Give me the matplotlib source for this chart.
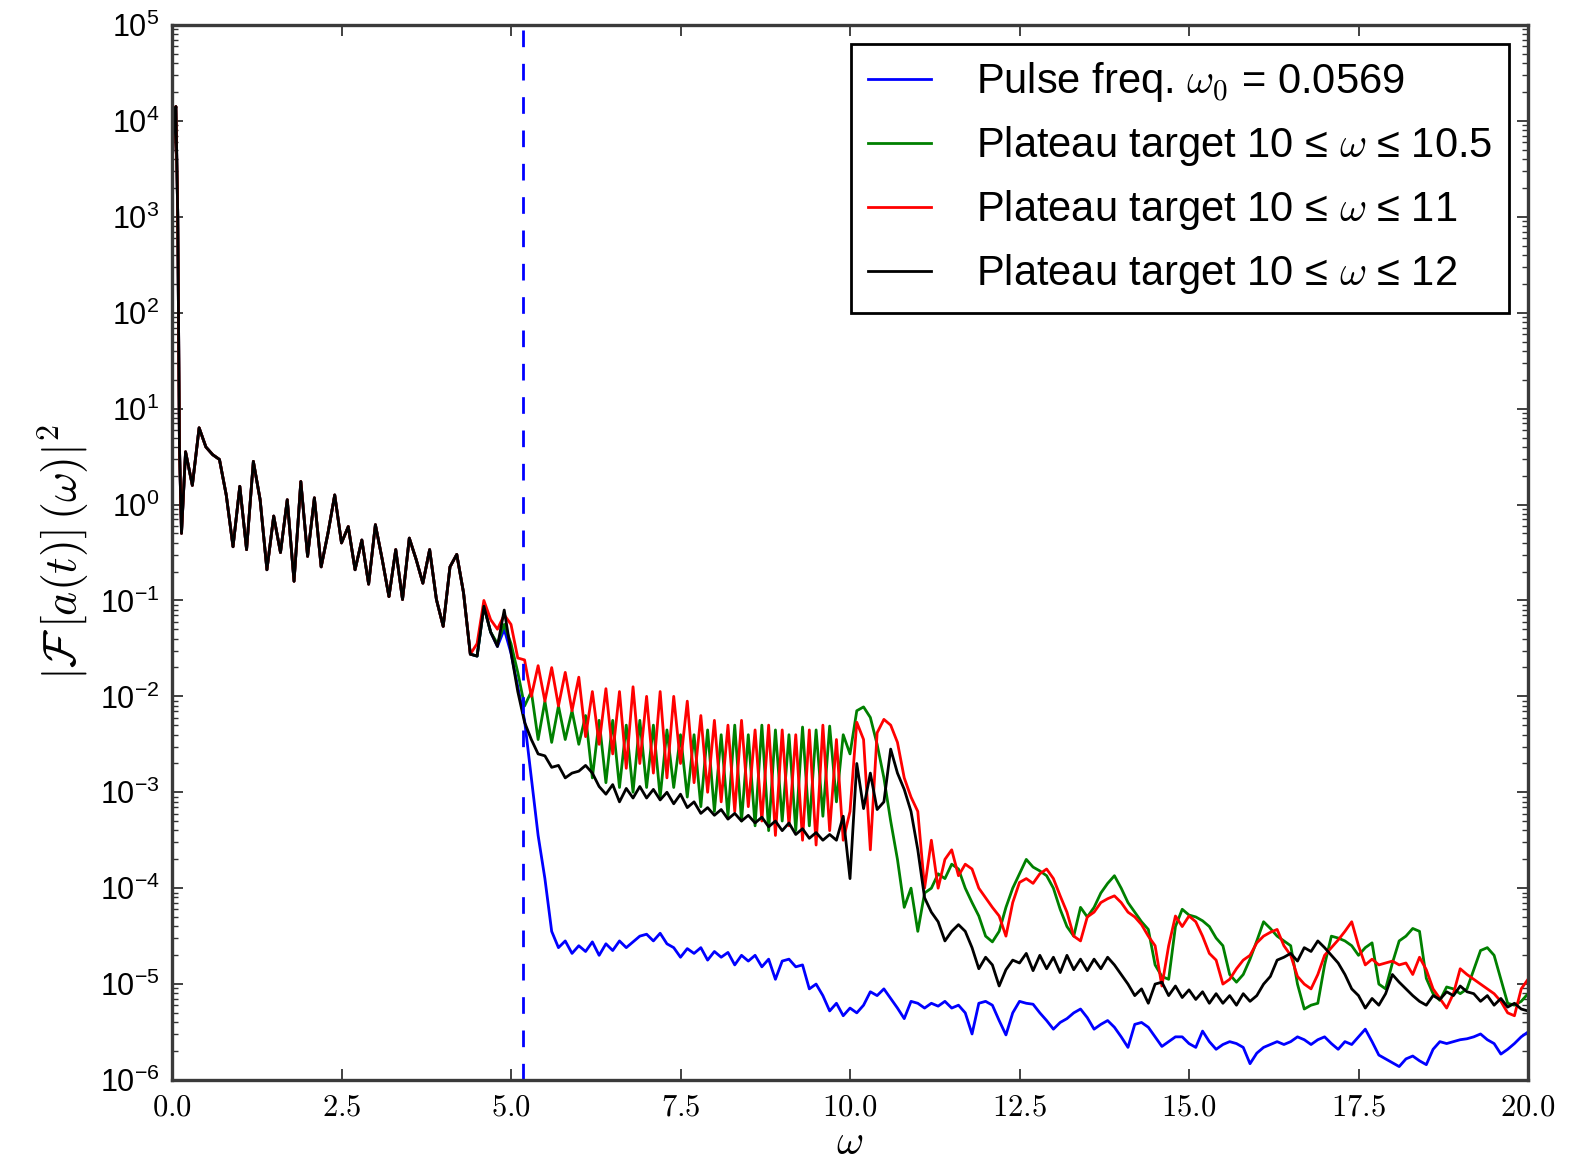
import numpy as np
import matplotlib
matplotlib.use("Agg")
import matplotlib.pyplot as plt
from matplotlib.ticker import MultipleLocator, FuncFormatter, FixedLocator, NullFormatter, LogFormatterSciNotation

plt.rcParams['font.family'] = ['Liberation Sans', 'DejaVu Sans']
plt.rcParams['mathtext.fontset'] = 'cm'

# ---------------------------------------------------------------------------
# Spectra, stored as log10 |F[a(t)](w)|^2
# ---------------------------------------------------------------------------
omega0 = 0.0569          # pulse frequency
cutoff_omega = 5.18      # dashed marker

# fundamental peak (shared by all runs)
omega_spike = [0.0, 0.03, 0.057, 0.085, 0.11, 0.14]
log_spike = [3.5, 4.0, 4.15, 3.0, 0.6, -0.3]

# low-order band, 0.2 .. 4.4 (identical for all runs)
omega_low = np.round(np.arange(0.2, 4.45, 0.1), 1)
log_low = [0.55, 0.2, 0.8, 0.6, 0.52, 0.47, 0.1, -0.44, 0.19, -0.47,
           0.45, 0.05, -0.68, -0.12, -0.5, 0.05, -0.8, 0.24, -0.54, 0.07,
           -0.65, -0.3, 0.1, -0.4, -0.23, -0.68, -0.37, -0.83, -0.21, -0.57,
           -0.96, -0.47, -0.99, -0.35, -0.57, -0.82, -0.47, -0.99, -1.27, -0.65,
           -0.52, -0.92, -1.56]

# per-run tails, 4.5 .. 20.0
omega_tail = np.round(np.arange(4.5, 20.05, 0.1), 1)

log_pulse = [
    -1.58, -1.06, -1.33, -1.48, -1.3,
    -1.55, -1.9, -2.25, -2.85, -3.45, -3.9, -4.45, -4.62, -4.55, -4.68,
    -4.6, -4.66, -4.56, -4.7, -4.58, -4.65, -4.55, -4.62, -4.56, -4.5,
    -4.48, -4.55, -4.47, -4.58, -4.62, -4.72, -4.63, -4.68, -4.62, -4.75,
    -4.66, -4.72, -4.67, -4.8, -4.7, -4.76, -4.7, -4.82, -4.74, -4.95,
    -4.76, -4.74, -4.82, -4.8, -5.05, -5.0, -5.12, -5.28, -5.2, -5.33,
    -5.25, -5.3, -5.22, -5.08, -5.12, -5.05, -5.15, -5.25, -5.36, -5.18,
    -5.2, -5.25, -5.2, -5.23, -5.18, -5.25, -5.22, -5.3, -5.52, -5.2,
    -5.18, -5.22, -5.38, -5.53, -5.3, -5.18, -5.2, -5.21, -5.3, -5.38,
    -5.47, -5.4, -5.36, -5.3, -5.26, -5.35, -5.47, -5.42, -5.38, -5.45,
    -5.55, -5.66, -5.42, -5.4, -5.45, -5.55, -5.65, -5.6, -5.55, -5.55,
    -5.62, -5.66, -5.49, -5.6, -5.68, -5.63, -5.6, -5.62, -5.66, -5.83,
    -5.72, -5.66, -5.63, -5.6, -5.63, -5.6, -5.55, -5.58, -5.63, -5.58,
    -5.55, -5.62, -5.68, -5.6, -5.63, -5.55, -5.47, -5.6, -5.74, -5.78,
    -5.82, -5.86, -5.78, -5.75, -5.8, -5.84, -5.68, -5.6, -5.62, -5.6,
    -5.58, -5.57, -5.55, -5.52, -5.58, -5.62, -5.73, -5.68, -5.62, -5.55,
    -5.5]

log_target_105 = [
    -1.58, -1.06, -1.33, -1.45, -1.25,
    -1.45, -1.75, -2.1, -1.95, -2.45, -2.05, -2.48, -2.1, -2.45, -2.15,
    -2.5, -2.2, -2.85, -2.25, -2.9, -2.25, -2.95, -2.3, -3.0, -2.25,
    -2.95, -2.3, -3.05, -2.35, -2.95, -2.4, -3.05, -2.4, -3.15, -2.35,
    -3.2, -2.4, -3.25, -2.3, -3.3, -2.4, -3.35, -2.3, -3.4, -2.35,
    -3.3, -2.4, -3.4, -2.32, -3.35, -2.35, -3.25, -2.31, -3.1, -2.4,
    -2.6, -2.15, -2.11, -2.22, -2.5, -2.85, -3.3, -3.7, -4.2, -4.0,
    -4.45, -4.05, -4.0, -3.85, -3.9, -3.75, -3.8, -4.0, -4.15, -4.29,
    -4.5, -4.56, -4.45, -4.2, -4.0, -3.85, -3.7, -3.78, -3.82, -3.87,
    -4.0, -4.22, -4.4, -4.5, -4.2, -4.3, -4.2, -4.05, -3.95, -3.87,
    -4.0, -4.15, -4.25, -4.35, -4.43, -4.8, -4.92, -4.95, -4.4, -4.22,
    -4.28, -4.3, -4.34, -4.4, -4.52, -4.6, -4.9, -4.98, -4.9, -4.74,
    -4.55, -4.35, -4.42, -4.5, -4.55, -4.6, -5.0, -5.26, -5.22, -5.2,
    -4.8, -4.5, -4.52, -4.55, -4.6, -4.7, -4.62, -4.57, -5.0, -5.05,
    -4.78, -4.55, -4.5, -4.42, -4.45, -4.94, -5.1, -5.17, -5.03, -5.05,
    -5.1, -5.05, -4.85, -4.65, -4.62, -4.7, -4.95, -5.2, -5.22, -5.18,
    -5.1]

log_target_11 = [
    -1.45, -1.0, -1.2, -1.3, -1.15,
    -1.25, -1.6, -1.62, -2.0, -1.68, -2.05, -1.7, -2.1, -1.75, -2.15,
    -1.8, -2.42, -1.95, -2.5, -1.92, -2.6, -1.95, -2.75, -1.9, -2.7,
    -2.0, -2.8, -1.95, -2.85, -2.0, -2.7, -2.05, -2.9, -2.2, -3.0,
    -2.25, -3.1, -2.3, -3.2, -2.25, -3.15, -2.35, -3.3, -2.3, -3.45,
    -2.35, -3.35, -2.4, -3.5, -2.35, -3.55, -2.3, -3.4, -2.45, -3.5,
    -3.2, -2.27, -2.45, -3.6, -2.38, -2.24, -2.3, -2.48, -2.85, -3.05,
    -3.2, -4.0, -3.5, -4.0, -3.7, -3.6, -3.87, -3.75, -3.8, -4.0,
    -4.1, -4.2, -4.29, -4.5, -4.15, -3.94, -3.9, -3.95, -3.85, -3.8,
    -3.9, -4.08, -4.25, -4.5, -4.55, -4.3, -4.25, -4.15, -4.11, -4.08,
    -4.15, -4.25, -4.3, -4.38, -4.5, -4.6, -5.02, -4.6, -4.29, -4.4,
    -4.29, -4.35, -4.5, -4.68, -4.75, -5.0, -4.95, -4.84, -4.75, -4.7,
    -4.57, -4.5, -4.46, -4.43, -4.6, -4.7, -4.92, -5.0, -5.05, -4.9,
    -4.7, -4.62, -4.54, -4.45, -4.35, -4.6, -4.8, -4.74, -4.8, -4.78,
    -4.76, -4.8, -4.78, -4.9, -4.72, -4.85, -5.05, -5.15, -5.25, -5.1,
    -4.84, -4.9, -4.95, -5.0, -5.05, -5.1, -5.18, -5.3, -5.33, -5.05,
    -4.95]

log_target_12 = [
    -1.58, -1.06, -1.33, -1.48, -1.1,
    -1.54, -1.95, -2.27, -2.45, -2.6, -2.62, -2.74, -2.72, -2.85, -2.8,
    -2.78, -2.72, -2.8, -2.94, -3.02, -2.92, -3.1, -2.96, -3.06, -2.94,
    -3.06, -2.97, -3.08, -3.0, -3.12, -3.02, -3.16, -3.1, -3.22, -3.16,
    -3.24, -3.18, -3.28, -3.22, -3.3, -3.24, -3.32, -3.26, -3.36, -3.3,
    -3.4, -3.32, -3.44, -3.38, -3.48, -3.42, -3.5, -3.44, -3.5, -3.25,
    -3.9, -2.7, -3.17, -2.8, -3.18, -3.1, -2.55, -2.8, -2.97, -3.2,
    -3.6, -4.1, -4.25, -4.35, -4.55, -4.45, -4.38, -4.45, -4.62, -4.84,
    -4.72, -4.8, -5.02, -4.85, -4.75, -4.78, -4.68, -4.86, -4.7, -4.84,
    -4.72, -4.88, -4.7, -4.85, -4.74, -4.86, -4.74, -4.84, -4.72, -4.8,
    -4.9, -5.0, -5.12, -5.05, -5.2, -5.0, -4.98, -5.12, -5.02, -5.14,
    -5.06, -5.16, -5.08, -5.2, -5.1, -5.2, -5.12, -5.22, -5.1, -5.18,
    -5.12, -5.0, -4.92, -4.75, -4.72, -4.68, -4.76, -4.62, -4.66, -4.55,
    -4.62, -4.7, -4.78, -4.9, -5.05, -5.12, -5.25, -5.15, -5.22, -5.1,
    -4.9, -4.98, -5.05, -5.12, -5.18, -5.22, -5.12, -5.16, -5.08, -5.12,
    -5.02, -5.08, -5.1, -5.18, -5.12, -5.22, -5.15, -5.24, -5.2, -5.26,
    -5.28]

labels = [r'Pulse freq. $\omega_0$ = 0.0569',
          r'Plateau target 10 ≤ $\omega$ ≤ 10.5',
          r'Plateau target 10 ≤ $\omega$ ≤ 11',
          r'Plateau target 10 ≤ $\omega$ ≤ 12']
colors = ['#0000ff', '#008000', '#ff0000', '#000000']
tails = [log_pulse, log_target_105, log_target_11, log_target_12]

omega_full = np.concatenate([omega_spike, omega_low, omega_tail])

fig = plt.figure(figsize=(15.74, 11.66), dpi=100)
ax = fig.add_axes([172 / 1574, 1 - 1080 / 1166,
                   (1528 - 172) / 1574, (1080 - 25) / 1166])

for tail, col, lab in zip(tails, colors, labels):
    logs = np.concatenate([log_spike, log_low, tail])
    ax.plot(omega_full, 10.0 ** logs, color=col, lw=2.0, label=lab)

ax.axvline(cutoff_omega, color='#0000ff', lw=2.0, ls=(0, (6, 6)))

ax.set_yscale('log')
ax.set_xlim(0, 20)
ax.set_ylim(1e-6, 1e5)

decades = np.arange(-6, 6)
ax.xaxis.set_major_locator(MultipleLocator(2.5))
ax.xaxis.set_major_formatter(FuncFormatter(lambda v, p: r'$%.1f$' % v))
ax.yaxis.set_major_locator(FixedLocator(10.0 ** decades))
ax.yaxis.set_major_formatter(LogFormatterSciNotation())
minor_pos = [m * 10.0 ** d for d in decades[:-1] for m in range(2, 10)]
ax.yaxis.set_minor_locator(FixedLocator(minor_pos))
ax.yaxis.set_minor_formatter(NullFormatter())

ax.tick_params(which='both', direction='in', top=True, right=True,
               labelsize=22, color='#333333')
ax.tick_params(which='major', length=8, width=1.3, pad=9)
ax.tick_params(which='minor', length=4, width=1.0)
for sp in ax.spines.values():
    sp.set_linewidth(2.4)
    sp.set_color('#3a3a3a')

ax.set_ylabel(r'$|\mathcal{F}\,[a(t)]\,(\omega)|^2$', fontsize=33, labelpad=6)
ax.set_xlabel(r'$\omega$', fontsize=30, labelpad=0)

leg = ax.legend(loc='upper right', fontsize=30, handlelength=1.5,
                handletextpad=1.1, borderaxespad=0.45, labelspacing=0.48,
                borderpad=0.4, fancybox=False, framealpha=1.0)
leg.get_frame().set_edgecolor('black')
leg.get_frame().set_linewidth(2.0)
for line in leg.get_lines():
    line.set_linewidth(2.0)

fig.savefig('out.png', dpi=100)
